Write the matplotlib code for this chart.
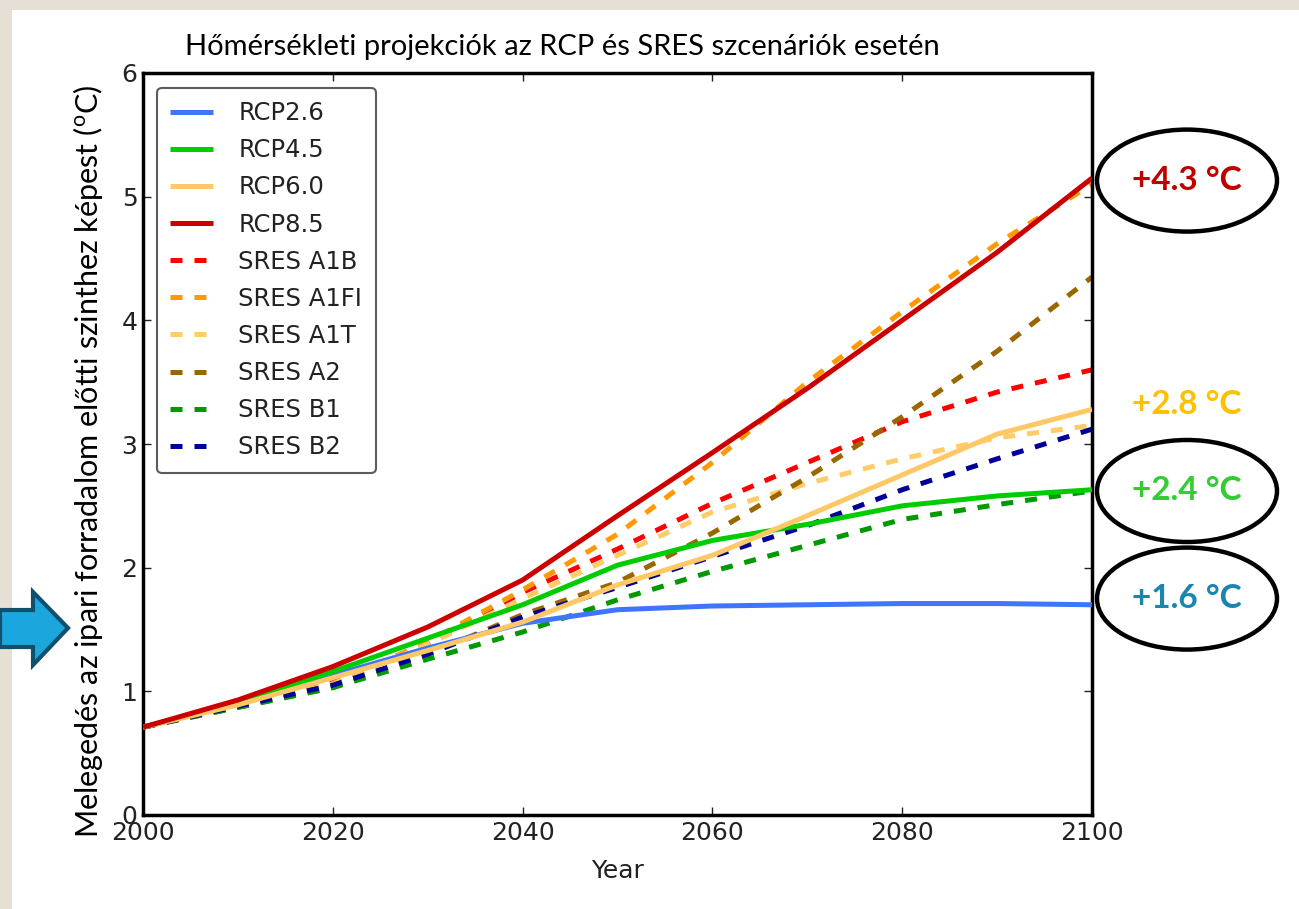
import matplotlib
matplotlib.use("Agg")
import matplotlib.pyplot as plt
from matplotlib.patches import Ellipse, Rectangle, Polygon

plt.rcParams["mathtext.fontset"] = "custom"
plt.rcParams["mathtext.rm"] = "Lato"

years = [2000, 2010, 2020, 2030, 2040, 2050, 2060, 2070, 2080, 2090, 2100]

rcp26 = [0.71, 0.90, 1.13, 1.35, 1.55, 1.66, 1.69, 1.70, 1.71, 1.71, 1.70]
rcp45 = [0.71, 0.91, 1.16, 1.43, 1.70, 2.02, 2.22, 2.35, 2.50, 2.58, 2.63]
rcp60 = [0.71, 0.89, 1.11, 1.33, 1.56, 1.86, 2.10, 2.42, 2.75, 3.08, 3.28]
rcp85 = [0.71, 0.93, 1.20, 1.52, 1.90, 2.42, 2.93, 3.45, 4.00, 4.55, 5.15]
a1b = [0.71, 0.88, 1.07, 1.38, 1.80, 2.15, 2.52, 2.85, 3.18, 3.42, 3.60]
a1fi = [0.71, 0.88, 1.06, 1.40, 1.82, 2.27, 2.85, 3.50, 4.07, 4.62, 5.10]
a1t = [0.71, 0.88, 1.06, 1.38, 1.75, 2.10, 2.45, 2.68, 2.88, 3.05, 3.15]
a2 = [0.71, 0.87, 1.03, 1.30, 1.62, 1.88, 2.28, 2.73, 3.22, 3.75, 4.35]
b1 = [0.71, 0.87, 1.03, 1.26, 1.48, 1.74, 1.97, 2.18, 2.39, 2.51, 2.62]
b2 = [0.71, 0.88, 1.05, 1.30, 1.60, 1.84, 2.09, 2.34, 2.63, 2.88, 3.12]

rcp_series = [
    ("RCP2.6", rcp26, "#3f74ff"),
    ("RCP4.5", rcp45, "#00cc00"),
    ("RCP6.0", rcp60, "#ffc866"),
    ("RCP8.5", rcp85, "#cc0000"),
]
sres_series = [
    ("SRES A1B", a1b, "#ff0000"),
    ("SRES A1FI", a1fi, "#ff9900"),
    ("SRES A1T", a1t, "#ffcc66"),
    ("SRES A2", a2, "#996600"),
    ("SRES B1", b1, "#009900"),
    ("SRES B2", b2, "#000099"),
]

callouts = [
    ("+4.3 °C", 5.13, "#c00000", True),
    ("+2.8 °C", 3.32, "#ffc000", False),
    ("+2.4 °C", 2.62, "#33cc33", True),
    ("+1.6 °C", 1.75, "#1a86b0", True),
]

W, H = 1299, 909
fig = plt.figure(figsize=(W / 100, H / 100), dpi=100, facecolor="#e5dfd5")
fig.patches.append(Rectangle((12 / W, 0), 1 - 12 / W, 1 - 10 / H,
                             transform=fig.transFigure, facecolor="white",
                             edgecolor="none", zorder=-5))

ax = fig.add_axes([143 / W, 1 - 815 / H, (1092 - 143) / W, (815 - 73) / H])

# solid RCP lines on top, dashed SRES lines beneath
handles = []
for name, vals, col in rcp_series:
    h, = ax.plot(years, vals, color=col, lw=3.6, label=name, zorder=3,
                 solid_capstyle="butt")
    handles.append(h)
for name, vals, col in sres_series:
    h, = ax.plot(years, vals, color=col, lw=3.6, label=name, zorder=2,
                 dashes=(2.4, 2.4), dash_capstyle="butt")
    handles.append(h)

ax.set_xlim(2000, 2100)
ax.set_ylim(0, 6)
ax.set_xticks(range(2000, 2101, 20))
ax.set_yticks(range(0, 7))
ax.tick_params(direction="in", length=6, width=1, top=True, right=True,
               labelsize=18, pad=4, colors="#222222")
for sp in ax.spines.values():
    sp.set_linewidth(2.5)
    sp.set_color("black")

leg = ax.legend(handles=handles, loc="upper left", fontsize=17.5,
                handlelength=1.75, handletextpad=1.05, labelspacing=0.54,
                borderpad=0.55, frameon=True, fancybox=True,
                bbox_to_anchor=(0.0148, 0.98), borderaxespad=0)
leg.get_frame().set_edgecolor("#333333")
leg.get_frame().set_linewidth(1.5)
for t in leg.get_texts():
    t.set_color("#222222")

ax.set_xlabel("Year", fontsize=18, color="#222222")
ax.xaxis.set_label_coords(0.5, -0.059)
ax.set_ylabel("Melegedés az ipari forradalom előtti szinthez képest "
              r"($^{\mathrm{o}}$C)", fontsize=22, family="Lato")
ax.yaxis.set_label_coords(-0.04, 0.477)

fig.text(562 / W, 1 - 47 / H,
         "Hőmérsékleti projekciók az RCP és SRES szcenáriók esetén",
         ha="center", va="center", fontsize=21, family="Lato")

# value callouts to the right of the axes
for text, yv, col, circled in callouts:
    xd, yd = ax.transData.transform((2100, yv))
    xf = 1187 / W
    yf = yd / H
    if circled:
        fig.patches.append(Ellipse((xf, yf), 180 / W, 102 / H,
                                   transform=fig.transFigure,
                                   facecolor="none", edgecolor="black",
                                   lw=3.2, zorder=5))
    fig.text(xf, yf, text, ha="center", va="center", fontsize=24,
             fontweight="bold", family="Lato", color=col, zorder=6)

# block arrow pointing at the axis title
arrow = [(0, 610), (33, 610), (33, 592), (68, 628), (33, 665), (33, 647), (0, 647)]
fig.patches.append(Polygon([(x / W, 1 - y / H) for x, y in arrow], closed=True,
                           transform=fig.transFigure, facecolor="#1ba6de",
                           edgecolor="#10506c", lw=3, zorder=5))

fig.savefig("out.png", dpi=100, facecolor=fig.get_facecolor())
